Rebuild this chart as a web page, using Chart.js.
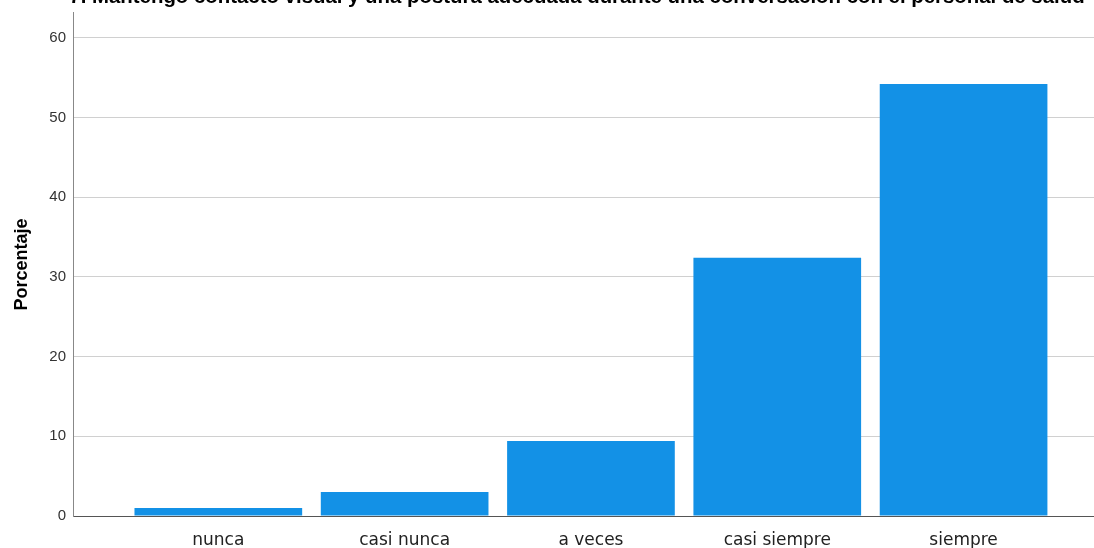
<!DOCTYPE html>
<html>
<head>
<meta charset="utf-8">
<script src="https://cdn.jsdelivr.net/npm/chart.js@4"></script>
<style>
  html, body { margin: 0; padding: 0; background: #fff; }
  #wrap { position: relative; width: 1094px; height: 548px; }
</style>
</head>
<body>
<div id="wrap"><canvas id="graph"></canvas></div>
<script>
const titulo = "7. Mantengo contacto visual y una postura adecuada durante una conversación con el personal de salud";
const categorias = ["nunca", "casi nunca", "a veces", "casi siempre", "siempre"];
const porcentajes = [1.0, 3.0, 9.4, 32.4, 54.2];
const ticksY = [0, 10, 20, 30, 40, 50, 60];

const graph = document.getElementById('graph');

// el titulo va un poco a la derecha, como en el original
const moverTitulo = {
    id: "moverTitulo",
    afterLayout(chart) {
        chart.titleBlock.left += 30;
        chart.titleBlock.right += 30;
    }
};

new Chart(graph, {
    type: "bar",
    data: {
        datasets: [{
            data: porcentajes.map((v, i) => ({ x: i, y: v })),
            backgroundColor: "#1391e6",
            borderWidth: 0,
            barPercentage: 0.9,
            categoryPercentage: 1.0
        }]
    },
    plugins: [moverTitulo],
    options: {
        responsive: true,
        maintainAspectRatio: false,
        animation: false,
        layout: { padding: 0 },
        plugins: {
            legend: { display: false },
            tooltip: { enabled: false },
            title: {
                display: true,
                text: titulo,
                color: "#000",
                font: { family: "Liberation Sans, Arial", size: 20.4, weight: "bold" },
                padding: { top: -14.5, bottom: 3 }
            }
        },
        scales: {
            x: {
                type: "linear",
                offset: false,
                min: -0.78,
                max: 4.70,
                grid: { display: false, offset: false },
                border: { display: true, color: "#555" },
                ticks: {
                    stepSize: 1,
                    color: "#222",
                    font: { family: "DejaVu Sans", size: 17 },
                    padding: 6,
                    callback: v => categorias[v] || ""
                },
                afterBuildTicks: s => { s.ticks = s.ticks.filter(t => Number.isInteger(t.value) && categorias[t.value]); },
                afterFit: s => { s.height = 32; }
            },
            y: {
                min: 0,
                max: 63.1,
                grid: { color: "#d0d0d0", lineWidth: 1, drawTicks: false },
                border: { display: true, color: "#888" },
                ticks: {
                    stepSize: 10,
                    color: "#333",
                    font: { family: "Liberation Sans, Arial", size: 15 },
                    padding: 7
                },
                afterBuildTicks: s => { s.ticks = ticksY.map(v => ({ value: v })); },
                title: {
                    display: true,
                    text: "Porcentaje",
                    color: "#000",
                    font: { family: "Liberation Sans, Arial", size: 18, weight: "bold" },
                    padding: { top: 11, bottom: 0 }
                },
                afterFit: s => { s.width = 73; s.paddingTop = 0; s.paddingBottom = 0; }
            }
        }
    }
});
</script>
</body>
</html>
